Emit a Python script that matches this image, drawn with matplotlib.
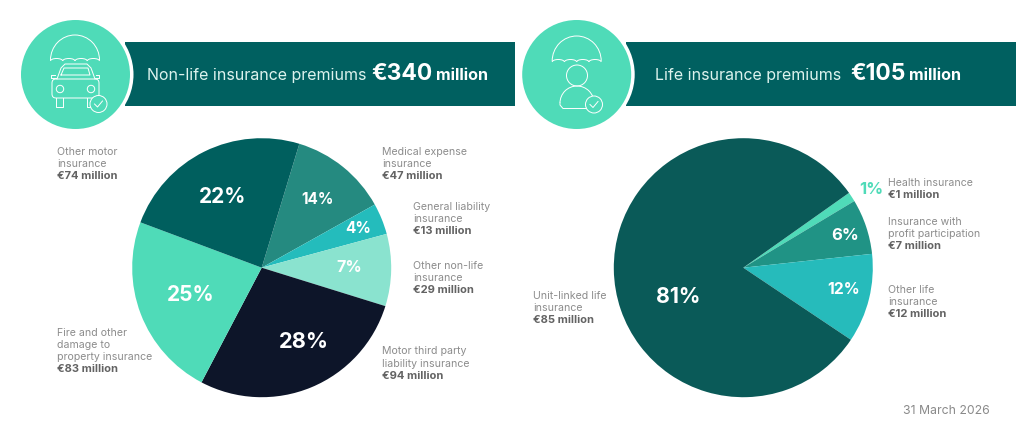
import numpy as np
import matplotlib
matplotlib.use("Agg")
from matplotlib import pyplot as plt
from matplotlib.patches import Circle, Rectangle, Arc, FancyBboxPatch

plt.rcParams['font.family'] = ['Inter', 'DejaVu Sans']

W, H = 1024, 443

nonlife_names = ["Medical expense\ninsurance", "General liability\ninsurance", "Other non-life\ninsurance",
                 "Motor third party\nliability insurance", "Fire and other\ndamage to\nproperty insurance",
                 "Other motor\ninsurance"]
nonlife_amounts = [47, 13, 29, 94, 83, 74]
nonlife_printed = [14, 4, 7, 28, 25, 22]
nonlife_arcs = [12.2, 3.9, 9.0, 27.9, 23.0, 24.0]
nonlife_colors = ["#258A80", "#24BCBC", "#8AE3CF", "#0D1529", "#4FDBB8", "#005F5E"]

life_names = ["Health insurance", "Insurance with\nprofit participation", "Other life\ninsurance",
              "Unit-linked life\ninsurance"]
life_amounts = [1, 7, 12, 85]
life_printed = [1, 6, 12, 81]
life_arcs = [1.2, 6.9, 11.1, 80.8]
life_colors = ["#4FDBB8", "#209385", "#26BBBB", "#0A5A58"]

TEAL = "#006060"
MINT = "#4FDBB8"
GREY = "#8C8C8C"
DARKGREY = "#636363"

fig = plt.figure(figsize=(W / 100, H / 100), dpi=100)
bg = fig.add_axes([0, 0, 1, 1])
bg.set_xlim(0, W)
bg.set_ylim(H, 0)
bg.axis('off')


def draw_pie(cx, cy, r, arcs, colors, start):
    ax = fig.add_axes([(cx - r) / W, 1 - (cy + r) / H, 2 * r / W, 2 * r / H])
    ax.pie(arcs, colors=colors, startangle=start, counterclock=False, radius=1,
           wedgeprops={'linewidth': 0})
    ax.set_xlim(-1, 1)
    ax.set_ylim(-1, 1)


def draw_label(x, y, name, amount):
    lines = name.split("\n")
    for i, line in enumerate(lines):
        bg.text(x, y + i * 12.1, line, fontsize=7.6, color=GREY, va='center', ha='left')
    bg.text(x, y + len(lines) * 12.1, "€%d million" % amount, fontsize=8, color=DARKGREY,
            fontweight='bold', va='center', ha='left')


def umbrella(cx, top):
    lw = 0.7
    bg.plot([cx, cx], [top, top + 5], color='white', lw=lw)
    bg.add_patch(Arc((cx, top + 30), 49, 50, theta1=180, theta2=360, color='white', lw=lw, zorder=4))
    for k in range(4):
        x0 = cx - 24.5 + k * 12.25
        bg.add_patch(Arc((x0 + 6.1, top + 31), 12.25, 5, theta1=180, theta2=360, color='white', lw=lw, zorder=4))


def tick_badge(cx, cy):
    bg.add_patch(Circle((cx, cy), 8.5, fc=MINT, ec='white', lw=0.7, zorder=5))
    bg.plot([cx - 4, cx - 1, cx + 4], [cy, cy + 3, cy - 3], color='white', lw=0.7, zorder=6)


# headers
bg.add_patch(Rectangle((125, 42), 390, 63.5, color=TEAL, lw=0))
bg.add_patch(Rectangle((626, 42), 389.7, 63.5, color=TEAL, lw=0))
for cx in [75.5, 576.7]:
    bg.add_patch(Circle((cx, 74.5), 58, color='white', lw=0, zorder=2))
    bg.add_patch(Circle((cx, 74.5), 54.5, color=MINT, lw=0, zorder=3))

# car icon
umbrella(75, 30)
lw = 0.7
bg.add_patch(FancyBboxPatch((52, 79), 47, 19, boxstyle="round,pad=0,rounding_size=4", fc='none', ec='white', lw=lw, zorder=4))
bg.plot([57, 61, 65, 87, 91, 95], [79, 68, 64, 64, 68, 79], color='white', lw=lw, zorder=4)
bg.plot([61, 64, 88, 90, 61], [75, 68, 68, 75, 75], color='white', lw=lw, zorder=4)
bg.plot([55, 51, 51, 56], [75, 75, 78, 78], color='white', lw=lw, zorder=4)
bg.plot([96, 99, 99, 95], [75, 75, 78, 78], color='white', lw=lw, zorder=4)
bg.add_patch(Circle((60, 89), 3.7, fc='none', ec='white', lw=lw, zorder=4))
bg.add_patch(Circle((91, 89), 3.7, fc='none', ec='white', lw=lw, zorder=4))
bg.plot([56, 56, 63, 63], [98, 107, 107, 98], color='white', lw=lw, zorder=4)
bg.plot([87, 87, 92], [98, 107, 107], color='white', lw=lw, zorder=4)
tick_badge(98.5, 104)

# person icon
umbrella(576.7, 31)
bg.add_patch(Circle((577, 75.5), 10.5, fc='none', ec='white', lw=lw, zorder=4))
bg.add_patch(Arc((577, 103), 34, 34, theta1=180, theta2=360, color='white', lw=lw, zorder=4))
bg.plot([560, 560, 563, 590], [103, 105, 108.5, 108.5], color='white', lw=lw, zorder=4)
tick_badge(594, 104.5)

# header titles
bg.text(147, 75.5, "Non-life insurance premiums", fontsize=11.5, color='#DDF3EE', va='center', ha='left', zorder=5)
bg.text(371, 73.5, "€340", fontsize=16.5, color='white', fontweight='bold', va='center', ha='left', zorder=5)
bg.text(436, 75.5, "million", fontsize=11.6, color='white', fontweight='bold', va='center', ha='left', zorder=5)
bg.text(655, 75.5, "Life insurance premiums", fontsize=11.5, color='#DDF3EE', va='center', ha='left', zorder=5)
bg.text(850, 73.5, "€105", fontsize=16.5, color='white', fontweight='bold', va='center', ha='left', zorder=5)
bg.text(909, 75.5, "million", fontsize=11.6, color='white', fontweight='bold', va='center', ha='left', zorder=5)

# pies
draw_pie(261.7, 267.7, 129.5, nonlife_arcs, nonlife_colors, 73.1)
draw_pie(743.3, 267.7, 129.5, life_arcs, life_colors, 35.3)

# percentages go on a top layer so they sit over the pies
top = fig.add_axes([0, 0, 1, 1], zorder=10)
top.set_xlim(0, W)
top.set_ylim(H, 0)
top.axis('off')

nonlife_pct_xy = [(317, 199), (358, 228), (349, 267), (304, 342), (191, 295), (223, 197)]
nonlife_pct_size = [11, 11, 11.5, 15.7, 15, 15]
for p, xy, s in zip(nonlife_printed, nonlife_pct_xy, nonlife_pct_size):
    top.text(xy[0], xy[1], "%d%%" % p, color='white', fontsize=s, fontweight='bold', ha='center', va='center')

life_pct_xy = [(871, 189), (845, 235), (844, 289), (678, 297)]
life_pct_size = [12, 12, 11.3, 15.3]
life_pct_color = [MINT, 'white', 'white', 'white']
for p, xy, s, c in zip(life_printed, life_pct_xy, life_pct_size, life_pct_color):
    top.text(xy[0], xy[1], "%d%%" % p, color=c, fontsize=s, fontweight='bold', ha='center', va='center')

# side labels
nonlife_label_xy = [(382, 152), (413, 207), (413, 266), (382, 351.5), (57, 332.5), (57, 152)]
for n, a, xy in zip(nonlife_names, nonlife_amounts, nonlife_label_xy):
    draw_label(xy[0], xy[1], n, a)

life_label_xy = [(888, 182.5), (888, 221.5), (888, 290), (533, 296)]
for n, a, xy in zip(life_names, life_amounts, life_label_xy):
    draw_label(xy[0], xy[1], n, a)

bg.text(903, 411.5, "31 March 2026", fontsize=8.8, color='#8A8A8A', va='center', ha='left')

fig.savefig("out.png", dpi=100)
